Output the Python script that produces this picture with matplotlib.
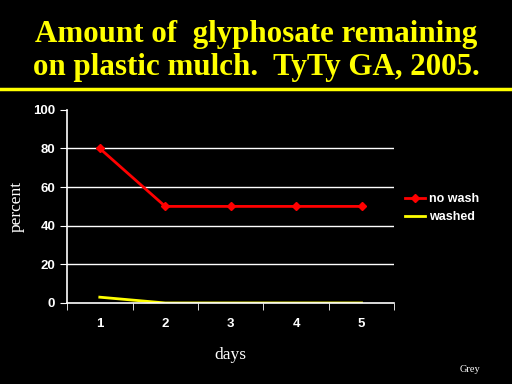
import matplotlib
matplotlib.use('Agg')
import matplotlib.pyplot as plt

days = [1, 2, 3, 4, 5]
no_wash = [80, 50, 50, 50, 50]
washed = [3, 0, 0, 0, 0]
y_ticks = [0, 20, 40, 60, 80, 100]

fig = plt.figure(figsize=(5.12, 3.84), dpi=100, facecolor='black')

# title block
fig.text(0.5, 0.867, 'Amount of  glyphosate remaining\non plastic mulch.  TyTy GA, 2005.',
         ha='center', va='center', color='#ffff00', fontsize=22.3, fontweight='bold',
         family='Liberation Serif', linespacing=1.22)
fig.add_artist(plt.Line2D([0, 1], [0.768, 0.768], color='#ffff00', lw=2.5))

ax = fig.add_axes([0.131, 0.211, 0.639, 0.503], facecolor='black')
ax.plot(days, no_wash, color='#ff0000', lw=2, marker='D', ms=4, label='no wash')
ax.plot(days, washed, color='#ffff00', lw=2, label='washed')

ax.set_xlim(0.5, 5.5)
ax.set_ylim(0, 100)
ax.set_yticks(y_ticks)
ax.set_xticks(days)
ax.set_xticks([d + 0.5 for d in [0] + days], minor=True)
ax.tick_params(axis='x', which='major', length=0, pad=11, colors='white', labelsize=9.5)
ax.tick_params(axis='x', which='minor', length=5, color='white', direction='out')
ax.tick_params(axis='y', length=5, color='white', labelcolor='white', labelsize=9.5)
for lbl in ax.get_xticklabels() + ax.get_yticklabels():
    lbl.set_fontweight('bold')
    lbl.set_family('Liberation Sans')

for y in y_ticks[1:-1]:
    ax.axhline(y, color='white', lw=1, zorder=0)

for s in ['top', 'right']:
    ax.spines[s].set_visible(False)
for s in ['left', 'bottom']:
    ax.spines[s].set_color('white')
    ax.spines[s].set_linewidth(1.2)

ax.set_ylabel('percent', color='white', fontsize=12.5, family='Liberation Serif', labelpad=6)
ax.set_xlabel('days', color='white', fontsize=12.5, family='Liberation Serif', labelpad=12)

leg = ax.legend(loc='center left', bbox_to_anchor=(1.0, 0.49), frameon=False,
                handlelength=1.6, handletextpad=0.3, labelspacing=0.5,
                prop={'family': 'Liberation Sans', 'weight': 'bold', 'size': 9})
for t in leg.get_texts():
    t.set_color('white')

fig.text(0.898, 0.03, 'Grey', color='white', fontsize=7.5, family='Liberation Serif')

plt.savefig('out.png', dpi=100, facecolor='black')
